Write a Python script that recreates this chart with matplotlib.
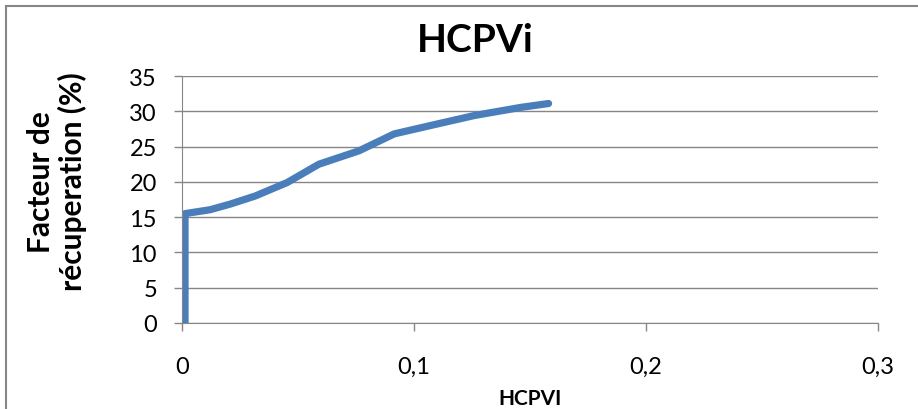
import matplotlib
matplotlib.use("Agg")
import matplotlib.pyplot as plt
from matplotlib.patches import Rectangle
from matplotlib.ticker import FuncFormatter

# Data
hcpvi = [0.0013, 0.0013, 0.0121, 0.0208, 0.0316, 0.0453, 0.059, 0.0763,
         0.0915, 0.110, 0.126, 0.146, 0.158]
recovery = [0.0, 15.5, 16.05, 16.85, 18.0, 19.9, 22.5, 24.4,
            26.8, 28.2, 29.4, 30.55, 31.1]

x_ticks = [0, 0.1, 0.2, 0.3]
y_ticks = [0, 5, 10, 15, 20, 25, 30, 35]

plt.rcParams["font.family"] = ["Lato", "DejaVu Sans"]

fig = plt.figure(figsize=(9.18, 4.1), dpi=100)
ax = fig.add_axes([182 / 918, 1 - 324 / 410, (878 - 182) / 918, (324 - 77) / 410])

ax.plot(hcpvi, recovery, color="#4A7EBB", linewidth=5.2, solid_capstyle="round",
        solid_joinstyle="round")

ax.set_xlim(0, 0.3)
ax.set_ylim(0, 35)
ax.set_xticks(x_ticks)
ax.set_yticks(y_ticks)
ax.xaxis.set_major_formatter(FuncFormatter(lambda v, p: ("%g" % v).replace(".", ",")))
ax.tick_params(axis="both", labelsize=17, colors="#868686", labelcolor="black",
               length=6, width=1)
ax.tick_params(axis="x", pad=18)
ax.tick_params(axis="y", pad=12)

ax.grid(axis="y", color="#868686", linewidth=1)
ax.set_axisbelow(True)
for s in ["top", "right"]:
    ax.spines[s].set_visible(False)
for s in ["left", "bottom"]:
    ax.spines[s].set_color("#868686")

ax.set_xlabel("HCPVI", fontsize=15, fontweight="bold", labelpad=7.5)
fig.text(57 / 918, 1 - 182 / 410, "Facteur de\nrécuperation (%)", rotation=90,
         ha="center", va="center", fontsize=21.5, fontweight="bold", linespacing=1.1)
fig.text(475 / 918, 1 - 41 / 410, "HCPVi", ha="center", va="center",
         fontsize=28, fontweight="bold")

fig.patches.append(Rectangle((6 / 918, -0.1), 1.2, 1.1 - 7 / 410,
                             transform=fig.transFigure, fill=False,
                             edgecolor="#868686", linewidth=1.5))

fig.savefig("out.png", dpi=100)
